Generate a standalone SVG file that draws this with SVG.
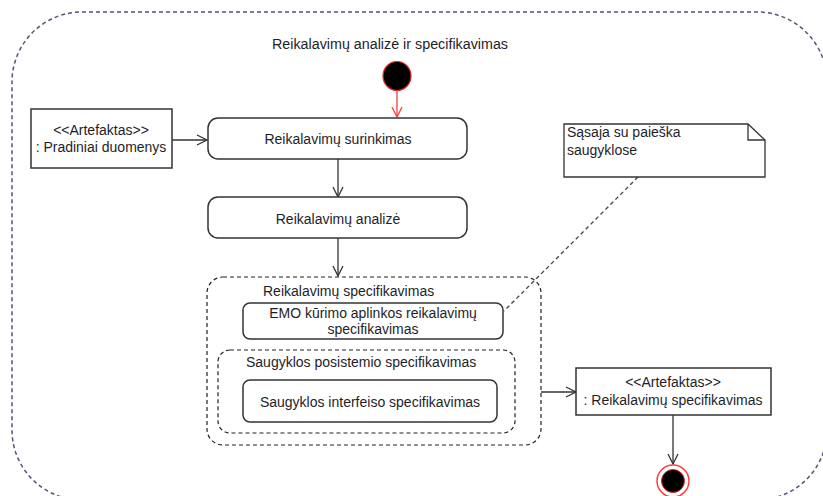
<svg xmlns="http://www.w3.org/2000/svg" width="823" height="496" viewBox="0 0 823 496">
<style>
text{font-family:"Liberation Sans",Arial,sans-serif;font-size:14px;fill:#1e1e2a}
.c{text-anchor:middle}
.box{fill:#fff;stroke:#333;stroke-width:1.5}
.grp{fill:none;stroke:#222;stroke-width:1.2;stroke-dasharray:4 3}
.edge{stroke:#333;stroke-width:1.3;fill:none}
</style>
<defs>
<marker id="arr" viewBox="0 0 12 12" refX="11" refY="6" markerWidth="12" markerHeight="12" markerUnits="userSpaceOnUse" orient="auto">
<path d="M1,1 L11,6 L1,11" fill="none" stroke="#333" stroke-width="1.3"/>
</marker>
<marker id="arrR" viewBox="0 0 12 12" refX="11" refY="6" markerWidth="12" markerHeight="12" markerUnits="userSpaceOnUse" orient="auto">
<path d="M1,1 L11,6 L1,11" fill="none" stroke="#ff3b3b" stroke-width="1.3"/>
</marker>
</defs>
<rect id="frame" x="12" y="12" width="815" height="488" rx="70" fill="none" stroke="#5b5178" stroke-width="1.5" stroke-dasharray="4 3"/>
<text class="c" x="390" y="49" textLength="236" lengthAdjust="spacingAndGlyphs">Reikalavimų analizė ir specifikavimas</text>
<g id="connectors">
<line x1="397" y1="91" x2="397" y2="117" stroke="#ff3b3b" stroke-width="1.3" marker-end="url(#arrR)"/>
<line class="edge" x1="172" y1="140" x2="207" y2="140" marker-end="url(#arr)"/>
<line class="edge" x1="338" y1="159" x2="338" y2="197" marker-end="url(#arr)"/>
<line class="edge" x1="338" y1="238" x2="338" y2="276" marker-end="url(#arr)"/>
<line class="edge" x1="541" y1="392" x2="576" y2="392" marker-end="url(#arr)"/>
<line class="edge" x1="673" y1="415" x2="673" y2="464" marker-end="url(#arr)"/>
<line x1="638" y1="177" x2="504" y2="311" stroke="#444" stroke-width="1.3" stroke-dasharray="4 3"/>
</g>
<g id="start"><ellipse cx="397" cy="76" rx="14" ry="14.5" fill="#000" stroke="#e52b2b" stroke-width="1.2"/></g>
<g id="art1"><rect class="box" x="31" y="109" width="141" height="59"/>
<text class="c" x="101" y="135">&lt;&lt;Artefaktas&gt;&gt;</text>
<text class="c" x="101" y="152">: Pradiniai duomenys</text></g>
<g id="surinkimas"><rect class="box" x="208" y="118" width="259" height="41" rx="10"/>
<text class="c" x="338" y="144">Reikalavimų surinkimas</text></g>
<g id="analize"><rect class="box" x="208" y="197" width="259" height="41" rx="10"/>
<text class="c" x="338" y="224">Reikalavimų analizė</text></g>
<g id="spec"><rect class="grp" x="207" y="277" width="334" height="168" rx="16"/>
<text x="263" y="296">Reikalavimų specifikavimas</text></g>
<g id="emo"><rect class="box" x="243" y="303" width="260" height="36" rx="7"/>
<text class="c" x="373" y="318">EMO kūrimo aplinkos reikalavimų</text>
<text class="c" x="373" y="334">specifikavimas</text></g>
<g id="posistemis"><rect class="grp" x="218" y="350" width="297" height="83" rx="12"/>
<text x="246" y="367">Saugyklos posistemio specifikavimas</text></g>
<g id="interfeisas"><rect class="box" x="243" y="380" width="254" height="42" rx="7"/>
<text class="c" x="370" y="407">Saugyklos interfeiso specifikavimas</text></g>
<g id="note"><path d="M564,124 H748 L765,140 V177 H564 Z" fill="#fff" stroke="#333" stroke-width="1.3"/>
<path d="M748,124 V140 H765" fill="none" stroke="#333" stroke-width="1.3"/>
<text x="567" y="137">Sąsaja su paieška</text>
<text x="567" y="155">saugyklose</text></g>
<g id="art2"><rect class="box" x="576" y="368" width="195" height="47"/>
<text class="c" x="673" y="387">&lt;&lt;Artefaktas&gt;&gt;</text>
<text class="c" x="673" y="405">: Reikalavimų specifikavimas</text></g>
<g id="end"><circle cx="673" cy="481" r="16" fill="#fff" stroke="#ff3b3b" stroke-width="1.5"/>
<circle cx="673" cy="481" r="11.5" fill="#000" stroke="#e52b2b" stroke-width="1"/></g>
</svg>
